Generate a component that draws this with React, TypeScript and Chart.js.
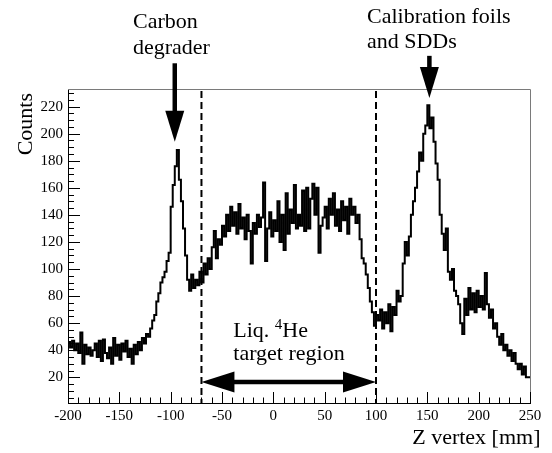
import React, { useEffect, useRef } from "react";
import { Chart, registerables } from "chart.js";

Chart.register(...registerables);

// Histogram: Z vertex distribution, 2 mm bins from -200 to 250 mm
const binStart = -200;
const binWidth = 2;
const counts = [
  36, 46, 42, 47, 40, 45, 38, 53, 30, 44,
  37, 42, 36, 40, 45, 35, 47, 32, 48, 38,
  34, 42, 30, 49, 36, 44, 33, 45, 39, 47,
  35, 41, 30, 44, 37, 46, 40, 49, 45, 52,
  50, 56, 62, 66, 76, 82, 90, 94, 98, 106,
  112, 146, 162, 176, 188, 166, 150, 130, 110, 92,
  84, 96, 86, 92, 88, 98, 90, 104, 96, 108,
  100, 116, 128, 108, 122, 118, 132, 124, 140, 128,
  146, 132, 142, 126, 148, 130, 138, 122, 140, 128,
  104, 134, 126, 140, 131, 138, 164, 106, 130, 142,
  124, 136, 128, 150, 120, 140, 114, 156, 126, 144,
  134, 162, 130, 140, 132, 158, 128, 160, 130, 152,
  163, 140, 160, 112, 132, 138, 146, 130, 152, 140,
  156, 132, 144, 128, 150, 136, 146, 126, 152, 140,
  146, 134, 140, 122, 108, 104, 96, 86, 76, 68,
  58, 66, 62, 70, 56, 68, 60, 74, 54, 72,
  66, 84, 76, 80, 104, 120, 110, 124, 140, 150,
  160, 172, 186, 180, 200, 206, 221, 204, 212, 194,
  178, 166, 140, 126, 114, 130, 98, 92, 100, 84,
  80, 74, 60, 52, 78, 66, 86, 70, 82, 68,
  84, 72, 80, 70, 97, 74, 64, 70, 56, 60,
  50, 44, 52, 40, 44, 36, 40, 32, 38, 30,
  26, 30, 22, 28, 20,
];

const xMin = -200;
const xMax = 250;
const xMajorStep = 50;
const xMinorStep = 10;
const yMin = 1;
const yMax = 233;
const yMajorStep = 20;
const yMinorStep = 5;

const xTitle = "Z vertex [mm]";
const yTitle = "Counts";

// target region boundaries (dashed lines) and double arrow level
const targetRegion = [-70, 100];
const targetArrowY = 16.5;

// vertical arrows: x position, shaft top, head tip (data units)
const carbonArrow = { x: -96, top: 252, tip: 194 };
const calibArrow = { x: 152, top: 257.5, tip: 226.4 };

const carbonLabel = ["Carbon", "degrader"];
const carbonLabelPos = { x: -136.7, y: [278.2, 259] };
const calibLabel = ["Calibration foils", "and SDDs"];
const calibLabelPos = { x: 91.2, y: [282.1, 263.2] };
const targetLabelPos = { x: -39, y: [50, 32.8] };

const FONT = "'Liberation Serif', 'Times New Roman', serif";

const overlayPlugin = {
  id: "rootStyleOverlay",
  afterDraw(chart: any) {
    const { ctx, chartArea, scales } = chart;
    const xs = scales.x;
    const ys = scales.y;
    const { left, right, top, bottom } = chartArea;
    ctx.save();

    // frame (top / right) in gray
    ctx.strokeStyle = "#7a7a7a";
    ctx.lineWidth = 1;
    ctx.beginPath();
    ctx.moveTo(left, Math.round(top) + 0.5);
    ctx.lineTo(right + 0.5, Math.round(top) + 0.5);
    ctx.lineTo(Math.round(right) + 0.5, bottom);
    ctx.stroke();

    // ticks, inward
    ctx.strokeStyle = "#000";
    ctx.lineWidth = 1;
    ctx.beginPath();
    for (let v = xMin; v <= xMax + 1e-6; v += xMinorStep) {
      const px = Math.round(xs.getPixelForValue(v)) + 0.5;
      const major = Math.abs(v % xMajorStep) < 1e-6;
      ctx.moveTo(px, bottom);
      ctx.lineTo(px, bottom - (major ? 11 : 5.5));
    }
    for (let v = 0; v <= yMax + 1e-6; v += yMinorStep) {
      if (v < yMin) continue;
      const py = Math.round(ys.getPixelForValue(v)) + 0.5;
      const major = Math.abs(v % yMajorStep) < 1e-6;
      ctx.moveTo(left, py);
      ctx.lineTo(left + (major ? 12 : 6), py);
    }
    ctx.stroke();

    // dashed target region lines
    ctx.setLineDash([7, 4]);
    ctx.lineWidth = 2;
    ctx.beginPath();
    for (const v of targetRegion) {
      const px = xs.getPixelForValue(v);
      ctx.moveTo(px, top + 2);
      ctx.lineTo(px, bottom);
    }
    ctx.stroke();
    ctx.setLineDash([]);

    // double arrow
    const ay = ys.getPixelForValue(targetArrowY);
    const ax1 = xs.getPixelForValue(targetRegion[0]);
    const ax2 = xs.getPixelForValue(targetRegion[1]);
    const hl = 33;
    const hw = 10.5;
    ctx.fillStyle = "#000";
    ctx.lineWidth = 4.5;
    ctx.beginPath();
    ctx.moveTo(ax1 + hl - 2, ay);
    ctx.lineTo(ax2 - hl + 2, ay);
    ctx.stroke();
    ctx.beginPath();
    ctx.moveTo(ax1, ay);
    ctx.lineTo(ax1 + hl, ay - hw);
    ctx.lineTo(ax1 + hl, ay + hw);
    ctx.closePath();
    ctx.fill();
    ctx.beginPath();
    ctx.moveTo(ax2, ay);
    ctx.lineTo(ax2 - hl, ay - hw);
    ctx.lineTo(ax2 - hl, ay + hw);
    ctx.closePath();
    ctx.fill();

    // vertical arrows
    const drawDown = (a: { x: number; top: number; tip: number }) => {
      const px = xs.getPixelForValue(a.x);
      const pTop = ys.getPixelForValue(a.top);
      const pTip = ys.getPixelForValue(a.tip);
      const L = 31;
      const W = 9.5;
      ctx.lineWidth = 4.5;
      ctx.beginPath();
      ctx.moveTo(px, pTop);
      ctx.lineTo(px, pTip - L + 2);
      ctx.stroke();
      ctx.beginPath();
      ctx.moveTo(px, pTip);
      ctx.lineTo(px - W, pTip - L);
      ctx.lineTo(px + W, pTip - L);
      ctx.closePath();
      ctx.fill();
    };
    drawDown(carbonArrow);
    drawDown(calibArrow);

    // labels
    ctx.fillStyle = "#000";
    ctx.textBaseline = "alphabetic";
    ctx.textAlign = "left";
    ctx.font = `22px ${FONT}`;
    carbonLabel.forEach((t, i) =>
      ctx.fillText(t, xs.getPixelForValue(carbonLabelPos.x), ys.getPixelForValue(carbonLabelPos.y[i]))
    );
    calibLabel.forEach((t, i) =>
      ctx.fillText(t, xs.getPixelForValue(calibLabelPos.x), ys.getPixelForValue(calibLabelPos.y[i]))
    );

    // Liq. 4He / target region
    const tx = xs.getPixelForValue(targetLabelPos.x);
    const ty1 = ys.getPixelForValue(targetLabelPos.y[0]);
    const ty2 = ys.getPixelForValue(targetLabelPos.y[1]);
    ctx.font = `22px ${FONT}`;
    const p1 = "Liq. ";
    ctx.fillText(p1, tx, ty1);
    let cx = tx + ctx.measureText(p1).width;
    ctx.font = `15px ${FONT}`;
    ctx.fillText("4", cx, ty1 - 8);
    cx += ctx.measureText("4").width;
    ctx.font = `22px ${FONT}`;
    ctx.fillText("He", cx, ty1);
    ctx.fillText("target region", tx, ty2);

    // axis titles
    ctx.font = `22px ${FONT}`;
    ctx.textAlign = "right";
    ctx.fillText(xTitle, 540.5, 444);
    ctx.save();
    ctx.translate(32, 93);
    ctx.rotate(-Math.PI / 2);
    ctx.textAlign = "right";
    ctx.fillText(yTitle, 0, 0);
    ctx.restore();

    ctx.restore();
  },
};

export default function App() {
  const canvasRef = useRef<HTMLCanvasElement | null>(null);

  useEffect(() => {
    if (!canvasRef.current) return;
    const points = counts.map((v, i) => ({ x: binStart + i * binWidth, y: v }));
    points.push({ x: binStart + counts.length * binWidth, y: counts[counts.length - 1] });

    const chart = new Chart(canvasRef.current, {
      type: "line",
      data: {
        datasets: [
          {
            data: points,
            stepped: "after",
            borderColor: "#000",
            borderWidth: 2,
            pointRadius: 0,
            fill: false,
            tension: 0,
          },
        ],
      },
      options: {
        animation: false,
        responsive: true,
        maintainAspectRatio: false,
        layout: { padding: { top: 89, right: 22, bottom: 10, left: 0 } },
        plugins: {
          legend: { display: false },
          tooltip: { enabled: false },
        },
        scales: {
          x: {
            type: "linear",
            min: xMin,
            max: xMax,
            grid: { display: false, drawTicks: false },
            border: { display: true, color: "#000", width: 1 },
            ticks: {
              stepSize: xMajorStep,
              color: "#000",
              padding: 4,
              maxRotation: 0,
              autoSkip: false,
              font: { family: FONT, size: 15 },
            },
            afterFit: (s: any) => {
              s.height = 40;
            },
          },
          y: {
            type: "linear",
            min: yMin,
            max: yMax,
            grid: { display: false, drawTicks: false },
            border: { display: true, color: "#000", width: 1 },
            ticks: {
              stepSize: yMajorStep,
              includeBounds: false,
              color: "#000",
              padding: 5,
              autoSkip: false,
              font: { family: FONT, size: 15 },
            },
            afterFit: (s: any) => {
              s.width = 68;
            },
          },
        },
      } as any,
      plugins: [overlayPlugin],
    });
    return () => chart.destroy();
  }, []);

  return (
    <div style={{ position: "fixed", left: 0, top: 0, width: 552, height: 453, background: "#fff" }}>
      <canvas ref={canvasRef} />
    </div>
  );
}
